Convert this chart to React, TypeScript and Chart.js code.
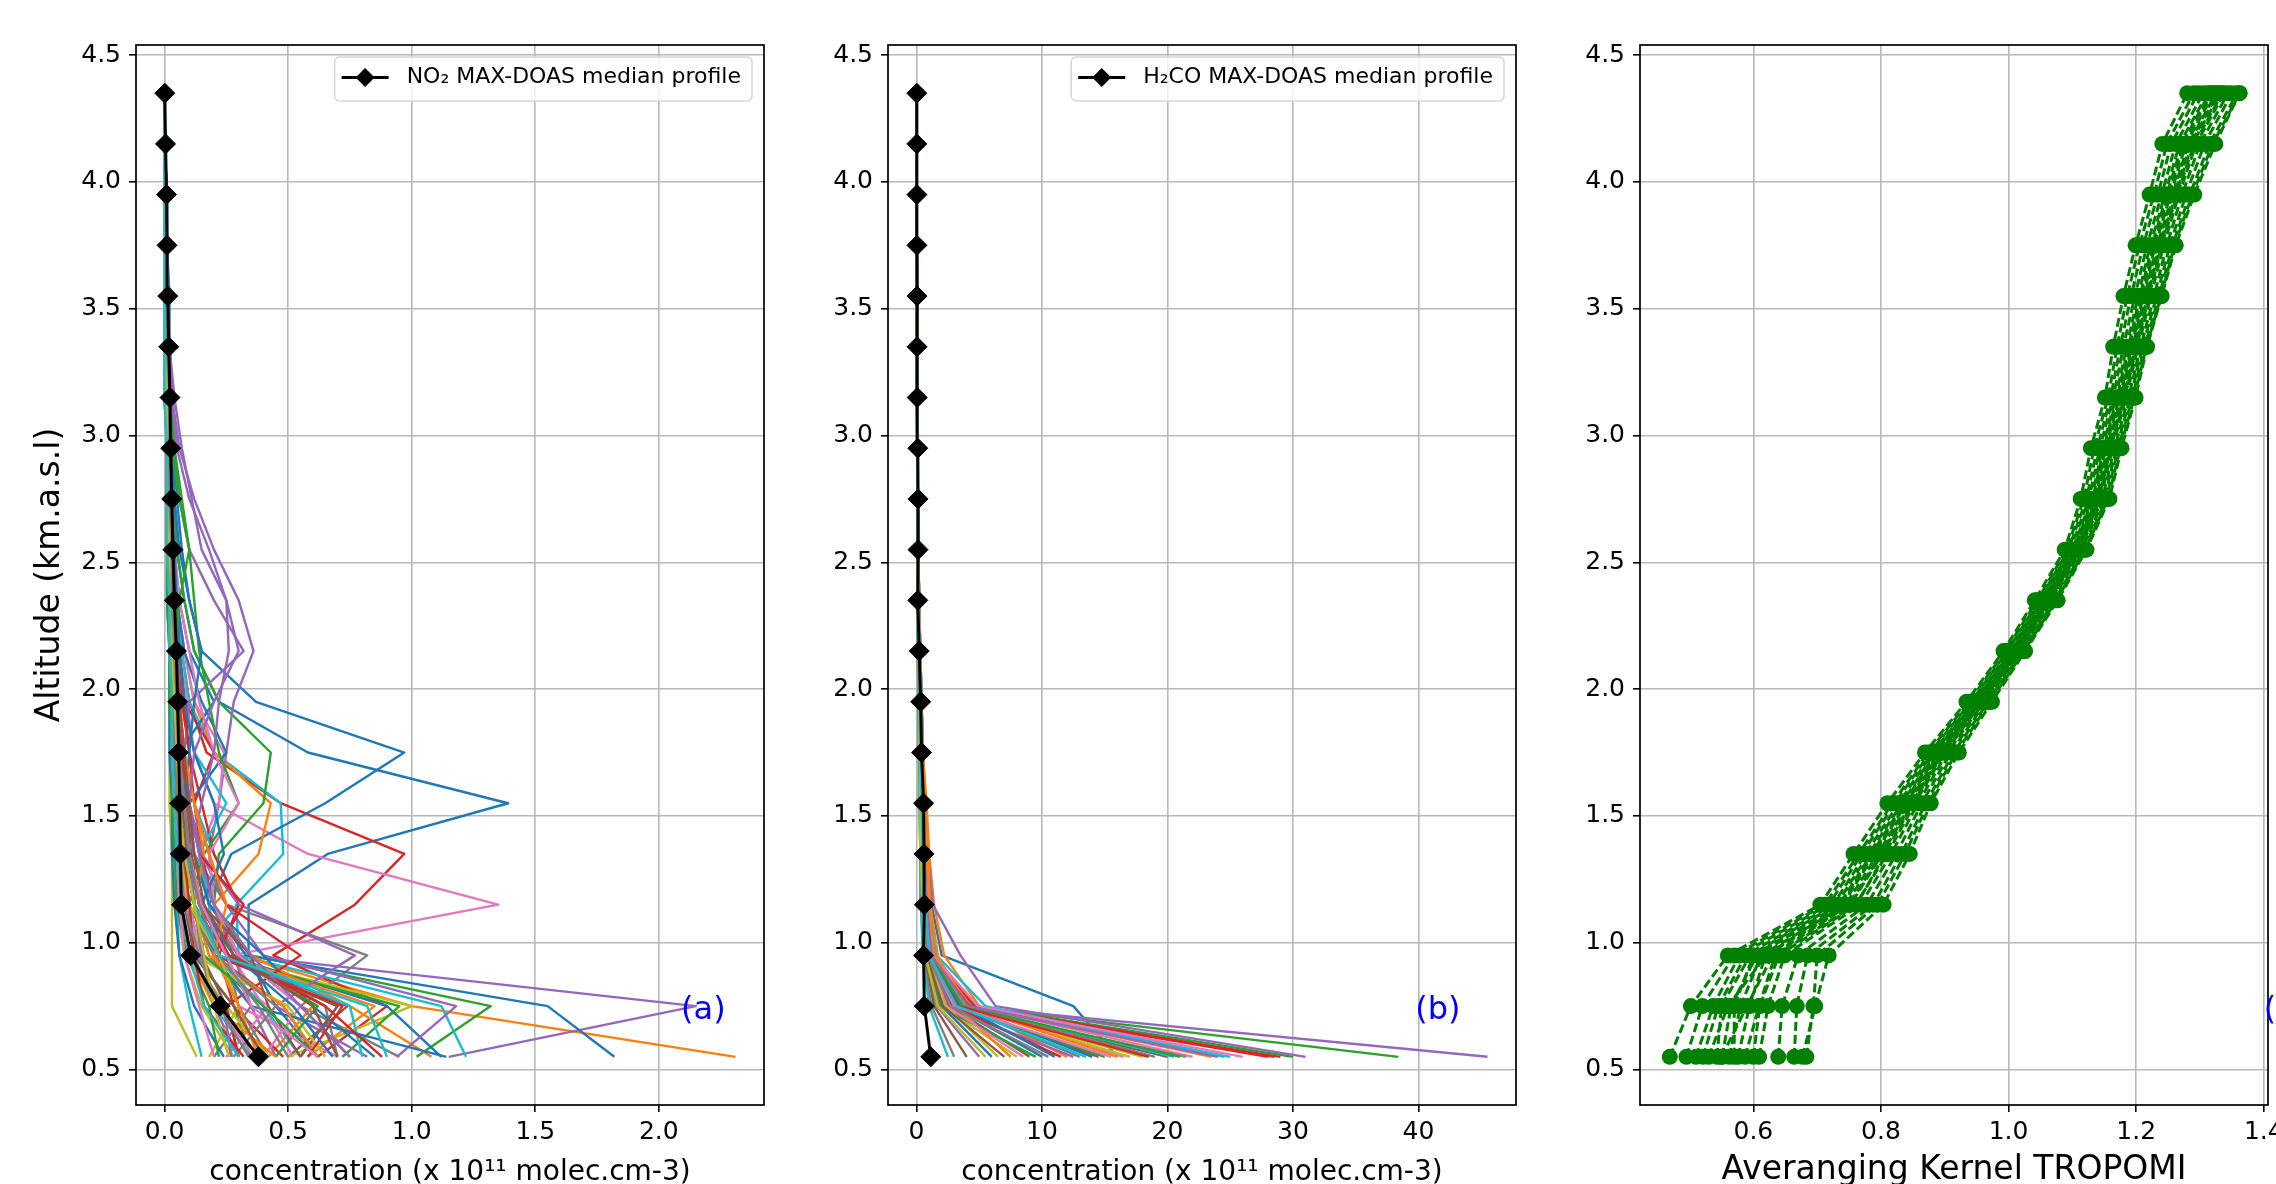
import React, { useEffect, useRef } from 'react';
import { Chart, registerables } from 'chart.js';

Chart.register(...registerables);

const FONT = "'DejaVu Sans', sans-serif";

// ---------------- data ----------------
const ALTITUDES = [0.55, 0.75, 0.95, 1.15, 1.35, 1.55, 1.75, 1.95, 2.15, 2.35, 2.55, 2.75, 2.95, 3.15, 3.35, 3.55, 3.75, 3.95, 4.15, 4.35];
const Y_TICKS = [0.5, 1.0, 1.5, 2.0, 2.5, 3.0, 3.5, 4.0, 4.5];
const Y_LIMITS = [0.36, 4.54];

const NO2_X_TICKS = [0, 0.5, 1.0, 1.5, 2.0];
const NO2_X_LIMITS = [-0.1155, 2.4255];
const NO2_MEDIAN = [0.38, 0.225, 0.106, 0.068, 0.064, 0.061, 0.057, 0.053, 0.048, 0.04, 0.034, 0.029, 0.025, 0.022, 0.017, 0.013, 0.01, 0.008, 0.004, 0.001];
const NO2_PROFILES = [
  [0.62, 0.45, 0.34, 0.34, 0.66, 1.39, 0.58, 0.22, 0.12, 0.08, 0.05, 0.04, 0.03, 0.02, 0.02, 0.01, 0.01, 0.01, 0.0, 0.0],
  [2.31, 1.0, 0.3, 0.15, 0.1, 0.08, 0.07, 0.05, 0.04, 0.03, 0.03, 0.02, 0.02, 0.01, 0.01, 0.01, 0.01, 0.0, 0.0, 0.0],
  [1.02, 1.32, 0.35, 0.18, 0.12, 0.1, 0.08, 0.06, 0.05, 0.04, 0.03, 0.03, 0.02, 0.02, 0.01, 0.01, 0.01, 0.0, 0.0, 0.0],
  [0.62, 0.9, 0.44, 0.77, 0.97, 0.47, 0.17, 0.1, 0.07, 0.05, 0.04, 0.03, 0.02, 0.02, 0.01, 0.01, 0.01, 0.0, 0.0, 0.0],
  [1.15, 2.15, 0.3, 0.14, 0.1, 0.08, 0.06, 0.05, 0.04, 0.03, 0.03, 0.02, 0.02, 0.01, 0.01, 0.01, 0.0, 0.0, 0.0, 0.0],
  [0.5, 0.74, 0.25, 0.12, 0.09, 0.07, 0.06, 0.05, 0.04, 0.03, 0.02, 0.02, 0.02, 0.01, 0.01, 0.01, 0.0, 0.0, 0.0, 0.0],
  [0.52, 0.4, 0.27, 1.35, 0.58, 0.2, 0.12, 0.09, 0.06, 0.05, 0.04, 0.03, 0.02, 0.02, 0.01, 0.01, 0.01, 0.0, 0.0, 0.0],
  [0.95, 0.55, 0.82, 0.25, 0.12, 0.08, 0.06, 0.05, 0.04, 0.03, 0.03, 0.02, 0.02, 0.01, 0.01, 0.01, 0.0, 0.0, 0.0, 0.0],
  [0.5, 1.0, 0.2, 0.1, 0.07, 0.05, 0.04, 0.03, 0.03, 0.02, 0.02, 0.01, 0.01, 0.01, 0.01, 0.0, 0.0, 0.0, 0.0, 0.0],
  [1.22, 1.12, 0.3, 0.29, 0.48, 0.47, 0.2, 0.1, 0.07, 0.05, 0.04, 0.03, 0.02, 0.02, 0.01, 0.01, 0.01, 0.0, 0.0, 0.0],

  [1.82, 1.55, 0.33, 0.18, 0.27, 0.65, 0.97, 0.37, 0.15, 0.1, 0.07, 0.05, 0.04, 0.03, 0.02, 0.02, 0.01, 0.01, 0.0, 0.0],
  [0.42, 0.6, 0.3, 0.2, 0.38, 0.43, 0.2, 0.12, 0.08, 0.05, 0.04, 0.03, 0.02, 0.02, 0.01, 0.01, 0.01, 0.0, 0.0, 0.0],
  [0.55, 0.7, 0.25, 0.2, 0.22, 0.4, 0.43, 0.22, 0.12, 0.08, 0.05, 0.04, 0.03, 0.02, 0.02, 0.01, 0.01, 0.01, 0.0, 0.0],
  [0.75, 0.55, 0.3, 0.2, 0.15, 0.12, 0.2, 0.08, 0.06, 0.05, 0.04, 0.03, 0.02, 0.02, 0.01, 0.01, 0.01, 0.0, 0.0, 0.0],
  [0.45, 0.35, 0.28, 0.2, 0.18, 0.22, 0.25, 0.28, 0.36, 0.3, 0.2, 0.12, 0.06, 0.03, 0.02, 0.01, 0.01, 0.01, 0.0, 0.0],
  [0.3, 0.25, 0.15, 0.1, 0.08, 0.06, 0.05, 0.04, 0.04, 0.03, 0.02, 0.02, 0.01, 0.01, 0.01, 0.0, 0.0, 0.0, 0.0, 0.0],
  [0.7, 0.3, 0.22, 0.18, 0.14, 0.22, 0.24, 0.12, 0.08, 0.05, 0.04, 0.03, 0.02, 0.02, 0.01, 0.01, 0.01, 0.0, 0.0, 0.0],
  [0.7, 0.65, 0.3, 0.15, 0.1, 0.08, 0.06, 0.05, 0.04, 0.03, 0.02, 0.02, 0.01, 0.01, 0.01, 0.01, 0.0, 0.0, 0.0, 0.0],
  [0.13, 0.03, 0.03, 0.03, 0.03, 0.02, 0.02, 0.02, 0.02, 0.01, 0.01, 0.01, 0.01, 0.01, 0.0, 0.0, 0.0, 0.0, 0.0, 0.0],
  [0.35, 0.2, 0.12, 0.3, 0.2, 0.12, 0.08, 0.06, 0.05, 0.04, 0.03, 0.02, 0.02, 0.01, 0.01, 0.01, 0.0, 0.0, 0.0, 0.0],

  [1.12, 0.9, 0.25, 0.12, 0.1, 0.08, 0.06, 0.2, 0.1, 0.06, 0.04, 0.03, 0.02, 0.02, 0.01, 0.01, 0.01, 0.0, 0.0, 0.0],
  [1.08, 0.75, 0.35, 0.2, 0.12, 0.09, 0.07, 0.05, 0.04, 0.03, 0.02, 0.02, 0.01, 0.01, 0.01, 0.0, 0.0, 0.0, 0.0, 0.0],
  [0.72, 0.95, 0.2, 0.1, 0.07, 0.06, 0.05, 0.04, 0.03, 0.03, 0.02, 0.02, 0.01, 0.01, 0.01, 0.0, 0.0, 0.0, 0.0, 0.0],
  [0.48, 0.28, 0.22, 0.3, 0.2, 0.15, 0.1, 0.07, 0.05, 0.04, 0.03, 0.02, 0.02, 0.01, 0.01, 0.01, 0.0, 0.0, 0.0, 0.0],
  [0.94, 1.18, 0.4, 0.25, 0.15, 0.1, 0.08, 0.1, 0.32, 0.2, 0.1, 0.06, 0.04, 0.03, 0.02, 0.01, 0.01, 0.0, 0.0, 0.0],
  [0.62, 0.48, 0.2, 0.12, 0.1, 0.08, 0.06, 0.05, 0.04, 0.03, 0.02, 0.02, 0.01, 0.01, 0.01, 0.0, 0.0, 0.0, 0.0, 0.0],
  [0.25, 0.42, 0.15, 0.1, 0.07, 0.06, 0.05, 0.04, 0.03, 0.02, 0.02, 0.01, 0.01, 0.01, 0.0, 0.0, 0.0, 0.0, 0.0, 0.0],
  [0.42, 0.3, 0.25, 0.2, 0.1, 0.07, 0.05, 0.04, 0.03, 0.03, 0.02, 0.02, 0.01, 0.01, 0.01, 0.0, 0.0, 0.0, 0.0, 0.0],
  [0.28, 0.15, 0.08, 0.05, 0.04, 0.03, 0.03, 0.02, 0.02, 0.02, 0.01, 0.01, 0.01, 0.01, 0.0, 0.0, 0.0, 0.0, 0.0, 0.0],
  [0.55, 0.4, 0.2, 0.18, 0.14, 0.25, 0.12, 0.08, 0.06, 0.04, 0.03, 0.03, 0.02, 0.01, 0.01, 0.01, 0.0, 0.0, 0.0, 0.0],

  [0.85, 0.6, 0.4, 0.18, 0.12, 0.1, 0.25, 0.15, 0.08, 0.05, 0.04, 0.03, 0.02, 0.02, 0.01, 0.01, 0.0, 0.0, 0.0, 0.0],
  [0.58, 0.85, 0.25, 0.15, 0.1, 0.08, 0.06, 0.05, 0.04, 0.03, 0.02, 0.02, 0.01, 0.01, 0.01, 0.0, 0.0, 0.0, 0.0, 0.0],
  [0.35, 0.28, 0.12, 0.1, 0.16, 0.3, 0.22, 0.18, 0.14, 0.12, 0.1, 0.07, 0.04, 0.02, 0.02, 0.01, 0.01, 0.0, 0.0, 0.0],
  [0.3, 0.25, 0.55, 0.25, 0.18, 0.12, 0.1, 0.08, 0.06, 0.05, 0.04, 0.03, 0.02, 0.02, 0.01, 0.01, 0.0, 0.0, 0.0, 0.0],
  [0.82, 0.45, 0.77, 0.3, 0.15, 0.1, 0.07, 0.06, 0.05, 0.04, 0.03, 0.02, 0.02, 0.01, 0.01, 0.01, 0.0, 0.0, 0.0, 0.0],
  [0.55, 0.7, 0.22, 0.14, 0.11, 0.09, 0.07, 0.05, 0.04, 0.03, 0.03, 0.02, 0.02, 0.01, 0.01, 0.01, 0.0, 0.0, 0.0, 0.0],
  [0.4, 0.55, 0.3, 0.2, 0.18, 0.3, 0.2, 0.14, 0.1, 0.06, 0.04, 0.03, 0.02, 0.02, 0.01, 0.01, 0.0, 0.0, 0.0, 0.0],
  [0.2, 0.35, 0.18, 0.12, 0.08, 0.06, 0.05, 0.04, 0.03, 0.02, 0.02, 0.01, 0.01, 0.01, 0.0, 0.0, 0.0, 0.0, 0.0, 0.0],
  [0.65, 0.5, 0.12, 0.15, 0.1, 0.07, 0.05, 0.04, 0.03, 0.02, 0.02, 0.01, 0.01, 0.01, 0.0, 0.0, 0.0, 0.0, 0.0, 0.0],
  [0.8, 0.75, 0.26, 0.16, 0.08, 0.06, 0.05, 0.04, 0.03, 0.02, 0.02, 0.01, 0.01, 0.01, 0.0, 0.0, 0.0, 0.0, 0.0, 0.0],

  [1.14, 0.35, 0.2, 0.15, 0.24, 0.2, 0.12, 0.08, 0.06, 0.05, 0.04, 0.03, 0.02, 0.02, 0.01, 0.01, 0.0, 0.0, 0.0, 0.0],
  [0.62, 0.48, 0.18, 0.12, 0.16, 0.12, 0.08, 0.06, 0.05, 0.04, 0.03, 0.02, 0.02, 0.01, 0.01, 0.01, 0.0, 0.0, 0.0, 0.0],
  [0.45, 0.62, 0.26, 0.15, 0.1, 0.07, 0.05, 0.04, 0.03, 0.03, 0.02, 0.02, 0.01, 0.01, 0.01, 0.0, 0.0, 0.0, 0.0, 0.0],
  [0.58, 0.72, 0.2, 0.32, 0.14, 0.1, 0.07, 0.05, 0.04, 0.03, 0.02, 0.02, 0.01, 0.01, 0.01, 0.0, 0.0, 0.0, 0.0, 0.0],
  [0.3, 0.2, 0.15, 0.12, 0.1, 0.15, 0.2, 0.22, 0.26, 0.25, 0.18, 0.1, 0.05, 0.03, 0.02, 0.01, 0.01, 0.0, 0.0, 0.0],
  [0.55, 0.42, 0.35, 0.15, 0.1, 0.07, 0.05, 0.04, 0.03, 0.03, 0.02, 0.02, 0.01, 0.01, 0.01, 0.0, 0.0, 0.0, 0.0, 0.0],
  [0.36, 0.22, 0.14, 0.09, 0.07, 0.05, 0.04, 0.03, 0.03, 0.02, 0.02, 0.01, 0.01, 0.01, 0.0, 0.0, 0.0, 0.0, 0.0, 0.0],
  [0.28, 0.45, 0.2, 0.1, 0.07, 0.05, 0.04, 0.03, 0.03, 0.02, 0.02, 0.01, 0.01, 0.01, 0.0, 0.0, 0.0, 0.0, 0.0, 0.0],
  [0.18, 0.3, 0.22, 0.1, 0.06, 0.05, 0.04, 0.03, 0.02, 0.02, 0.01, 0.01, 0.01, 0.0, 0.0, 0.0, 0.0, 0.0, 0.0, 0.0],
  [0.15, 0.1, 0.06, 0.05, 0.04, 0.04, 0.03, 0.03, 0.02, 0.02, 0.01, 0.01, 0.01, 0.01, 0.0, 0.0, 0.0, 0.0, 0.0, 0.0],

  [0.68, 0.52, 0.28, 0.14, 0.1, 0.08, 0.1, 0.12, 0.15, 0.1, 0.06, 0.04, 0.03, 0.02, 0.01, 0.01, 0.01, 0.0, 0.0, 0.0],
  [0.38, 0.3, 0.2, 0.25, 0.18, 0.12, 0.08, 0.06, 0.05, 0.04, 0.03, 0.02, 0.02, 0.01, 0.01, 0.01, 0.0, 0.0, 0.0, 0.0],
  [0.62, 0.4, 0.16, 0.12, 0.08, 0.06, 0.05, 0.04, 0.04, 0.06, 0.1, 0.06, 0.03, 0.02, 0.01, 0.01, 0.0, 0.0, 0.0, 0.0],
  [0.88, 0.65, 0.26, 0.14, 0.1, 0.08, 0.06, 0.05, 0.04, 0.03, 0.02, 0.02, 0.01, 0.01, 0.01, 0.0, 0.0, 0.0, 0.0, 0.0],
  [0.75, 0.55, 0.35, 0.2, 0.14, 0.1, 0.12, 0.2, 0.3, 0.25, 0.15, 0.11, 0.07, 0.04, 0.02, 0.01, 0.01, 0.0, 0.0, 0.0],
  [0.7, 0.6, 0.28, 0.16, 0.12, 0.1, 0.08, 0.06, 0.05, 0.04, 0.03, 0.02, 0.02, 0.01, 0.01, 0.0, 0.0, 0.0, 0.0, 0.0],
  [0.62, 0.35, 0.25, 0.15, 0.1, 0.08, 0.06, 0.05, 0.04, 0.03, 0.02, 0.02, 0.01, 0.01, 0.01, 0.0, 0.0, 0.0, 0.0, 0.0],
  [0.5, 0.38, 0.22, 0.14, 0.1, 0.08, 0.06, 0.05, 0.04, 0.03, 0.02, 0.02, 0.01, 0.01, 0.01, 0.0, 0.0, 0.0, 0.0, 0.0],
  [0.42, 0.25, 0.1, 0.06, 0.05, 0.04, 0.03, 0.03, 0.02, 0.02, 0.01, 0.01, 0.01, 0.0, 0.0, 0.0, 0.0, 0.0, 0.0, 0.0],
  [0.9, 0.82, 0.22, 0.12, 0.08, 0.06, 0.05, 0.04, 0.03, 0.02, 0.02, 0.01, 0.01, 0.01, 0.0, 0.0, 0.0, 0.0, 0.0, 0.0],

  [0.24, 0.12, 0.06, 0.04, 0.03, 0.03, 0.02, 0.02, 0.02, 0.01, 0.01, 0.01, 0.01, 0.0, 0.0, 0.0, 0.0, 0.0, 0.0, 0.0],
  [0.45, 0.2, 0.1, 0.06, 0.05, 0.04, 0.03, 0.03, 0.02, 0.02, 0.01, 0.01, 0.01, 0.01, 0.0, 0.0, 0.0, 0.0, 0.0, 0.0],
  [0.22, 0.18, 0.09, 0.05, 0.04, 0.03, 0.03, 0.02, 0.02, 0.01, 0.01, 0.01, 0.01, 0.0, 0.0, 0.0, 0.0, 0.0, 0.0, 0.0],
  [0.32, 0.16, 0.12, 0.1, 0.08, 0.06, 0.05, 0.04, 0.03, 0.02, 0.02, 0.01, 0.01, 0.01, 0.0, 0.0, 0.0, 0.0, 0.0, 0.0],
  [0.27, 0.24, 0.1, 0.06, 0.05, 0.04, 0.03, 0.03, 0.02, 0.02, 0.01, 0.01, 0.01, 0.0, 0.0, 0.0, 0.0, 0.0, 0.0, 0.0],
  [0.4, 0.28, 0.12, 0.08, 0.06, 0.05, 0.04, 0.03, 0.02, 0.02, 0.01, 0.01, 0.01, 0.01, 0.0, 0.0, 0.0, 0.0, 0.0, 0.0],
  [0.2, 0.14, 0.08, 0.06, 0.05, 0.04, 0.03, 0.03, 0.02, 0.02, 0.01, 0.01, 0.01, 0.0, 0.0, 0.0, 0.0, 0.0, 0.0, 0.0],
  [0.34, 0.22, 0.14, 0.08, 0.06, 0.05, 0.04, 0.03, 0.02, 0.02, 0.01, 0.01, 0.01, 0.01, 0.0, 0.0, 0.0, 0.0, 0.0, 0.0],
  [0.26, 0.2, 0.16, 0.12, 0.08, 0.06, 0.05, 0.04, 0.03, 0.02, 0.02, 0.01, 0.01, 0.01, 0.0, 0.0, 0.0, 0.0, 0.0, 0.0],
  [0.3, 0.16, 0.1, 0.07, 0.05, 0.04, 0.03, 0.03, 0.02, 0.02, 0.01, 0.01, 0.01, 0.0, 0.0, 0.0, 0.0, 0.0, 0.0, 0.0],
];

const HCHO_X_TICKS = [0, 10, 20, 30, 40];
const HCHO_X_LIMITS = [-2.275, 47.775];
const HCHO_MEDIAN = [1.13, 0.62, 0.56, 0.62, 0.6, 0.56, 0.4, 0.33, 0.21, 0.1, 0.12, 0.12, 0.1, 0.05, 0.04, 0.04, 0.03, 0.03, 0.02, 0.02];
const HCHO_PROFILES = [
  [16.0, 12.5, 2.0, 1.2, 0.9, 0.7, 0.5, 0.4, 0.3, 0.2, 0.15, 0.1, 0.08, 0.06, 0.05, 0.04, 0.03, 0.02, 0.02, 0.01],
  [12.0, 4.2, 1.6, 1.0, 0.8, 0.6, 0.5, 0.4, 0.3, 0.2, 0.15, 0.1, 0.08, 0.06, 0.05, 0.04, 0.03, 0.02, 0.02, 0.01],
  [38.4, 4.0, 1.2, 0.8, 0.6, 0.5, 0.4, 0.3, 0.2, 0.15, 0.1, 0.08, 0.06, 0.05, 0.04, 0.03, 0.02, 0.02, 0.01, 0.01],
  [29.0, 3.5, 1.0, 0.7, 0.6, 0.5, 0.4, 0.3, 0.25, 0.2, 0.15, 0.1, 0.08, 0.06, 0.05, 0.04, 0.03, 0.02, 0.02, 0.01],
  [45.5, 3.6, 1.5, 1.0, 0.8, 0.6, 0.5, 0.4, 0.3, 0.2, 0.15, 0.1, 0.08, 0.06, 0.05, 0.04, 0.03, 0.02, 0.02, 0.01],
  [14.5, 3.0, 0.9, 0.6, 0.5, 0.4, 0.35, 0.3, 0.2, 0.15, 0.1, 0.08, 0.06, 0.05, 0.04, 0.03, 0.02, 0.02, 0.01, 0.01],
  [22.0, 4.5, 1.1, 0.8, 0.6, 0.5, 0.4, 0.3, 0.25, 0.2, 0.15, 0.1, 0.08, 0.06, 0.05, 0.04, 0.03, 0.02, 0.02, 0.01],
  [21.5, 2.5, 0.8, 0.6, 0.5, 0.4, 0.3, 0.25, 0.2, 0.15, 0.1, 0.08, 0.06, 0.05, 0.04, 0.03, 0.02, 0.02, 0.01, 0.01],
  [8.0, 2.0, 0.7, 0.5, 0.4, 0.35, 0.3, 0.25, 0.2, 0.15, 0.1, 0.08, 0.06, 0.05, 0.04, 0.03, 0.02, 0.02, 0.01, 0.01],
  [25.0, 4.4, 1.3, 0.9, 0.7, 0.6, 0.5, 0.4, 0.3, 0.2, 0.15, 0.1, 0.08, 0.06, 0.05, 0.04, 0.03, 0.02, 0.02, 0.01],

  [14.0, 3.8, 1.4, 0.9, 0.7, 0.55, 0.45, 0.35, 0.25, 0.2, 0.15, 0.1, 0.08, 0.06, 0.05, 0.04, 0.03, 0.02, 0.02, 0.01],
  [11.0, 5.0, 2.2, 1.4, 1.0, 0.7, 0.5, 0.4, 0.3, 0.2, 0.15, 0.1, 0.08, 0.06, 0.05, 0.04, 0.03, 0.02, 0.02, 0.01],
  [30.0, 4.8, 1.3, 0.9, 0.7, 0.55, 0.45, 0.35, 0.25, 0.2, 0.15, 0.1, 0.08, 0.06, 0.05, 0.04, 0.03, 0.02, 0.02, 0.01],
  [28.5, 4.6, 1.2, 0.8, 0.6, 0.5, 0.4, 0.3, 0.25, 0.2, 0.15, 0.1, 0.08, 0.06, 0.05, 0.04, 0.03, 0.02, 0.02, 0.01],
  [31.0, 6.3, 3.5, 1.3, 0.9, 0.7, 0.5, 0.4, 0.3, 0.2, 0.15, 0.1, 0.08, 0.06, 0.05, 0.04, 0.03, 0.02, 0.02, 0.01],
  [20.0, 3.2, 1.0, 0.7, 0.5, 0.4, 0.35, 0.3, 0.2, 0.15, 0.1, 0.08, 0.06, 0.05, 0.04, 0.03, 0.02, 0.02, 0.01, 0.01],
  [16.5, 3.8, 1.2, 0.8, 0.6, 0.5, 0.4, 0.3, 0.25, 0.2, 0.15, 0.1, 0.08, 0.06, 0.05, 0.04, 0.03, 0.02, 0.02, 0.01],
  [19.0, 4.0, 1.1, 0.7, 0.55, 0.45, 0.35, 0.3, 0.2, 0.15, 0.1, 0.08, 0.06, 0.05, 0.04, 0.03, 0.02, 0.02, 0.01, 0.01],
  [18.0, 3.4, 0.9, 0.6, 0.5, 0.4, 0.3, 0.25, 0.2, 0.15, 0.1, 0.08, 0.06, 0.05, 0.04, 0.03, 0.02, 0.02, 0.01, 0.01],
  [24.5, 5.5, 1.6, 1.0, 0.8, 0.6, 0.5, 0.4, 0.3, 0.2, 0.15, 0.1, 0.08, 0.06, 0.05, 0.04, 0.03, 0.02, 0.02, 0.01],

  [10.0, 2.8, 0.9, 0.6, 0.5, 0.4, 0.3, 0.25, 0.2, 0.15, 0.1, 0.08, 0.06, 0.05, 0.04, 0.03, 0.02, 0.02, 0.01, 0.01],
  [23.5, 4.3, 1.4, 0.9, 0.7, 0.5, 0.4, 0.3, 0.25, 0.2, 0.15, 0.1, 0.08, 0.06, 0.05, 0.04, 0.03, 0.02, 0.02, 0.01],
  [15.0, 3.0, 1.0, 0.7, 0.5, 0.4, 0.3, 0.25, 0.2, 0.15, 0.1, 0.08, 0.06, 0.05, 0.04, 0.03, 0.02, 0.02, 0.01, 0.01],
  [28.0, 4.2, 1.1, 0.8, 0.6, 0.45, 0.35, 0.3, 0.2, 0.15, 0.1, 0.08, 0.06, 0.05, 0.04, 0.03, 0.02, 0.02, 0.01, 0.01],
  [12.5, 2.2, 0.8, 0.6, 0.45, 0.35, 0.3, 0.25, 0.2, 0.15, 0.1, 0.08, 0.06, 0.05, 0.04, 0.03, 0.02, 0.02, 0.01, 0.01],
  [9.0, 2.6, 0.9, 0.6, 0.45, 0.35, 0.3, 0.2, 0.15, 0.1, 0.08, 0.06, 0.05, 0.04, 0.03, 0.02, 0.02, 0.01, 0.01, 0.01],
  [26.0, 4.9, 1.3, 0.9, 0.7, 0.5, 0.4, 0.3, 0.25, 0.2, 0.15, 0.1, 0.08, 0.06, 0.05, 0.04, 0.03, 0.02, 0.02, 0.01],
  [13.0, 3.3, 1.0, 0.7, 0.5, 0.4, 0.3, 0.25, 0.2, 0.15, 0.1, 0.08, 0.06, 0.05, 0.04, 0.03, 0.02, 0.02, 0.01, 0.01],
  [17.0, 3.6, 1.2, 0.8, 0.6, 0.45, 0.35, 0.3, 0.2, 0.15, 0.1, 0.08, 0.06, 0.05, 0.04, 0.03, 0.02, 0.02, 0.01, 0.01],
  [20.5, 3.9, 1.1, 0.8, 0.6, 0.45, 0.35, 0.3, 0.2, 0.15, 0.1, 0.08, 0.06, 0.05, 0.04, 0.03, 0.02, 0.02, 0.01, 0.01],

  [6.0, 2.0, 0.8, 0.5, 0.4, 0.3, 0.25, 0.2, 0.15, 0.1, 0.08, 0.06, 0.05, 0.04, 0.03, 0.02, 0.02, 0.01, 0.01, 0.01],
  [7.5, 3.1, 1.7, 1.1, 0.8, 0.6, 0.45, 0.35, 0.25, 0.2, 0.15, 0.1, 0.08, 0.06, 0.05, 0.04, 0.03, 0.02, 0.02, 0.01],
  [9.5, 1.8, 0.7, 0.5, 0.4, 0.3, 0.25, 0.2, 0.15, 0.1, 0.08, 0.06, 0.05, 0.04, 0.03, 0.02, 0.02, 0.01, 0.01, 0.01],
  [11.5, 2.9, 1.0, 0.7, 0.5, 0.4, 0.3, 0.25, 0.2, 0.15, 0.1, 0.08, 0.06, 0.05, 0.04, 0.03, 0.02, 0.02, 0.01, 0.01],
  [5.0, 1.6, 0.6, 0.45, 0.35, 0.3, 0.25, 0.2, 0.15, 0.1, 0.08, 0.06, 0.05, 0.04, 0.03, 0.02, 0.02, 0.01, 0.01, 0.01],
  [4.0, 1.4, 0.6, 0.4, 0.3, 0.25, 0.2, 0.15, 0.1, 0.08, 0.06, 0.05, 0.04, 0.03, 0.02, 0.02, 0.01, 0.01, 0.01, 0.0],
  [8.5, 2.4, 0.9, 0.6, 0.45, 0.35, 0.3, 0.2, 0.15, 0.1, 0.08, 0.06, 0.05, 0.04, 0.03, 0.02, 0.02, 0.01, 0.01, 0.01],
  [3.0, 1.2, 0.5, 0.35, 0.3, 0.25, 0.2, 0.15, 0.1, 0.08, 0.06, 0.05, 0.04, 0.03, 0.02, 0.02, 0.01, 0.01, 0.01, 0.0],
  [6.5, 2.3, 0.8, 0.5, 0.4, 0.3, 0.25, 0.2, 0.15, 0.1, 0.08, 0.06, 0.05, 0.04, 0.03, 0.02, 0.02, 0.01, 0.01, 0.01],
  [2.5, 1.0, 0.5, 0.4, 0.3, 0.25, 0.2, 0.15, 0.1, 0.08, 0.06, 0.05, 0.04, 0.03, 0.02, 0.02, 0.01, 0.01, 0.01, 0.0],

  [11.0, 3.5, 1.2, 0.8, 0.6, 0.45, 0.35, 0.3, 0.2, 0.15, 0.1, 0.08, 0.06, 0.05, 0.04, 0.03, 0.02, 0.02, 0.01, 0.01],
  [16.0, 4.0, 1.3, 0.9, 1.0, 0.8, 0.5, 0.35, 0.25, 0.2, 0.15, 0.1, 0.08, 0.06, 0.05, 0.04, 0.03, 0.02, 0.02, 0.01],
  [21.0, 3.7, 1.1, 0.8, 0.6, 0.45, 0.35, 0.3, 0.2, 0.15, 0.1, 0.08, 0.06, 0.05, 0.04, 0.03, 0.02, 0.02, 0.01, 0.01],
  [18.5, 3.3, 1.0, 0.7, 0.5, 0.4, 0.3, 0.25, 0.2, 0.15, 0.1, 0.08, 0.06, 0.05, 0.04, 0.03, 0.02, 0.02, 0.01, 0.01],
  [24.0, 4.1, 1.2, 0.8, 0.6, 0.45, 0.35, 0.3, 0.2, 0.15, 0.1, 0.08, 0.06, 0.05, 0.04, 0.03, 0.02, 0.02, 0.01, 0.01],
  [7.0, 2.1, 0.8, 0.55, 0.4, 0.3, 0.25, 0.2, 0.15, 0.1, 0.08, 0.06, 0.05, 0.04, 0.03, 0.02, 0.02, 0.01, 0.01, 0.01],
  [15.5, 3.0, 1.0, 0.7, 0.5, 0.4, 0.3, 0.25, 0.2, 0.15, 0.1, 0.08, 0.06, 0.05, 0.04, 0.03, 0.02, 0.02, 0.01, 0.01],
  [10.5, 2.7, 0.9, 0.6, 0.45, 0.35, 0.3, 0.2, 0.15, 0.1, 0.08, 0.06, 0.05, 0.04, 0.03, 0.02, 0.02, 0.01, 0.01, 0.01],
  [5.5, 1.7, 0.7, 0.5, 0.35, 0.3, 0.25, 0.2, 0.15, 0.1, 0.08, 0.06, 0.05, 0.04, 0.03, 0.02, 0.02, 0.01, 0.01, 0.01],
  [13.5, 3.2, 1.0, 0.7, 0.5, 0.4, 0.3, 0.25, 0.2, 0.15, 0.1, 0.08, 0.06, 0.05, 0.04, 0.03, 0.02, 0.02, 0.01, 0.01],
];

const AK_X_TICKS = [0.6, 0.8, 1.0, 1.2, 1.4];
const AK_X_LIMITS = [0.4223, 1.4066];
const AK_PROFILES = [
  [0.469, 0.502, 0.560, 0.705, 0.757, 0.810, 0.869, 0.934, 0.992, 1.041, 1.088, 1.113, 1.129, 1.151, 1.164, 1.180, 1.199, 1.221, 1.241, 1.280],
  [0.495, 0.520, 0.570, 0.712, 0.765, 0.818, 0.874, 0.938, 0.995, 1.045, 1.091, 1.118, 1.134, 1.156, 1.170, 1.186, 1.205, 1.228, 1.248, 1.290],
  [0.510, 0.537, 0.578, 0.718, 0.770, 0.822, 0.877, 0.941, 0.998, 1.048, 1.094, 1.122, 1.139, 1.160, 1.175, 1.192, 1.211, 1.234, 1.255, 1.297],
  [0.521, 0.545, 0.588, 0.725, 0.776, 0.828, 0.881, 0.944, 1.001, 1.050, 1.097, 1.126, 1.143, 1.164, 1.180, 1.198, 1.217, 1.240, 1.262, 1.305],
  [0.543, 0.550, 0.595, 0.730, 0.781, 0.833, 0.884, 0.947, 1.004, 1.053, 1.100, 1.130, 1.147, 1.168, 1.185, 1.203, 1.222, 1.245, 1.268, 1.312],
  [0.551, 0.565, 0.605, 0.738, 0.788, 0.838, 0.888, 0.950, 1.007, 1.056, 1.103, 1.134, 1.151, 1.172, 1.190, 1.208, 1.228, 1.251, 1.275, 1.318],
  [0.562, 0.580, 0.612, 0.745, 0.795, 0.843, 0.892, 0.953, 1.010, 1.059, 1.106, 1.138, 1.155, 1.176, 1.195, 1.213, 1.233, 1.257, 1.282, 1.325],
  [0.576, 0.594, 0.619, 0.752, 0.802, 0.848, 0.896, 0.956, 1.013, 1.062, 1.108, 1.141, 1.159, 1.180, 1.199, 1.218, 1.238, 1.262, 1.288, 1.332],
  [0.587, 0.609, 0.634, 0.760, 0.810, 0.853, 0.900, 0.959, 1.015, 1.064, 1.110, 1.144, 1.163, 1.184, 1.203, 1.223, 1.243, 1.267, 1.294, 1.338],
  [0.609, 0.623, 0.649, 0.768, 0.816, 0.858, 0.904, 0.962, 1.017, 1.066, 1.112, 1.147, 1.166, 1.188, 1.207, 1.228, 1.248, 1.272, 1.300, 1.344],
  [0.639, 0.645, 0.670, 0.778, 0.824, 0.864, 0.909, 0.965, 1.019, 1.069, 1.115, 1.150, 1.169, 1.191, 1.210, 1.232, 1.253, 1.278, 1.307, 1.350],
  [0.664, 0.668, 0.685, 0.788, 0.832, 0.870, 0.914, 0.968, 1.022, 1.072, 1.118, 1.153, 1.172, 1.194, 1.213, 1.236, 1.257, 1.284, 1.315, 1.358],
  [0.683, 0.694, 0.700, 0.795, 0.838, 0.874, 0.918, 0.971, 1.024, 1.075, 1.120, 1.156, 1.175, 1.197, 1.216, 1.239, 1.260, 1.288, 1.320, 1.362],
  [0.677, 0.697, 0.718, 0.804, 0.845, 0.878, 0.922, 0.974, 1.026, 1.077, 1.122, 1.158, 1.177, 1.199, 1.217, 1.240, 1.262, 1.291, 1.324, 1.362],
  [0.530, 0.560, 0.620, 0.740, 0.790, 0.840, 0.890, 0.952, 1.008, 1.058, 1.104, 1.136, 1.152, 1.174, 1.193, 1.211, 1.230, 1.254, 1.278, 1.322],
  [0.600, 0.610, 0.640, 0.762, 0.806, 0.850, 0.898, 0.958, 1.014, 1.063, 1.109, 1.142, 1.160, 1.182, 1.201, 1.220, 1.240, 1.264, 1.291, 1.335],
  [0.550, 0.590, 0.630, 0.750, 0.800, 0.846, 0.894, 0.955, 1.011, 1.060, 1.107, 1.140, 1.157, 1.178, 1.197, 1.216, 1.236, 1.260, 1.285, 1.328],
  [0.570, 0.570, 0.600, 0.735, 0.785, 0.836, 0.886, 0.949, 1.006, 1.055, 1.102, 1.132, 1.149, 1.170, 1.188, 1.206, 1.225, 1.248, 1.272, 1.315],
];

const TAB10 = ['#1f77b4', '#ff7f0e', '#2ca02c', '#d62728', '#9467bd', '#8c564b', '#e377c2', '#7f7f7f', '#bcbd22', '#17becf'];

// ---------------- helpers ----------------
const toPoints = (values: number[]) => ALTITUDES.map((y, k) => ({ x: values[k], y }));

function profileDatasets(profiles: number[][], median: number[]) {
  const n = profiles.length;
  const ds: any[] = profiles.map((p, i) => ({
    data: toPoints(p),
    showLine: true,
    borderColor: TAB10[i % 10],
    backgroundColor: TAB10[i % 10],
    borderWidth: 2.4,
    borderJoinStyle: 'round',
    pointRadius: 0,
    order: n - i + 1,
  }));
  ds.push({
    data: toPoints(median),
    showLine: true,
    borderColor: '#000',
    backgroundColor: '#000',
    borderWidth: 3,
    borderJoinStyle: 'round',
    pointStyle: 'rectRot',
    pointRadius: 10,
    pointBorderWidth: 1,
    pointBorderColor: '#000',
    pointBackgroundColor: '#000',
    order: 0,
  });
  return ds;
}

function akDatasets(profiles: number[][]) {
  const n = profiles.length;
  return profiles.map((p, i) => ({
    data: toPoints(p),
    showLine: true,
    borderColor: '#008000',
    backgroundColor: '#008000',
    borderWidth: 3,
    borderDash: [9, 4],
    borderJoinStyle: 'round',
    pointStyle: 'circle',
    pointRadius: 8,
    pointBorderWidth: 0,
    pointBackgroundColor: '#008000',
    order: n - i,
  }));
}

type PanelCfg = {
  left: number;
  datasets: any[];
  xLim: number[];
  xTicks: number[];
  xFmt: (v: number) => string;
  xTitle: string;
  xTitleSize: number;
  xTitleLH: number;
  yTitle?: string;
  legend?: string;
  tag: { text: string; x: number; y: number };
};

const CANVAS_W = 800;
const CANVAS_H = 1184;

function Panel({ cfg }: { cfg: PanelCfg }) {
  const ref = useRef<HTMLCanvasElement>(null);
  useEffect(() => {
    const decor = {
      id: 'decor',
      afterDatasetsDraw(chart: any) {
        const { ctx, chartArea: a } = chart;
        ctx.save();
        ctx.strokeStyle = '#000';
        ctx.lineWidth = 1.7;
        ctx.strokeRect(a.left, a.top, a.right - a.left, a.bottom - a.top);
        const xs = chart.scales.x;
        const ys = chart.scales.y;
        ctx.font = `32px ${FONT}`;
        ctx.fillStyle = '#0000ff';
        ctx.textAlign = 'left';
        ctx.textBaseline = 'alphabetic';
        ctx.fillText(cfg.tag.text, xs.getPixelForValue(cfg.tag.x), ys.getPixelForValue(cfg.tag.y));
        if (cfg.legend) {
          ctx.font = `22px ${FONT}`;
          const tw = ctx.measureText(cfg.legend).width;
          const boxW = 72 + tw + 11;
          const boxH = 44;
          const right = a.right - 12;
          const top = a.top + 12;
          const left = right - boxW;
          const r = 5;
          ctx.beginPath();
          ctx.moveTo(left + r, top);
          ctx.lineTo(right - r, top);
          ctx.arcTo(right, top, right, top + r, r);
          ctx.lineTo(right, top + boxH - r);
          ctx.arcTo(right, top + boxH, right - r, top + boxH, r);
          ctx.lineTo(left + r, top + boxH);
          ctx.arcTo(left, top + boxH, left, top + boxH - r, r);
          ctx.lineTo(left, top + r);
          ctx.arcTo(left, top, left + r, top, r);
          ctx.closePath();
          ctx.fillStyle = 'rgba(255,255,255,0.8)';
          ctx.fill();
          ctx.strokeStyle = '#d6d6d6';
          ctx.lineWidth = 1.5;
          ctx.stroke();
          const cy = top + 20.5;
          ctx.strokeStyle = '#000';
          ctx.lineWidth = 3;
          ctx.beginPath();
          ctx.moveTo(left + 7, cy);
          ctx.lineTo(left + 54, cy);
          ctx.stroke();
          const cx = left + 30.5;
          const d = 9.5;
          ctx.fillStyle = '#000';
          ctx.beginPath();
          ctx.moveTo(cx - d, cy);
          ctx.lineTo(cx, cy - d);
          ctx.lineTo(cx + d, cy);
          ctx.lineTo(cx, cy + d);
          ctx.closePath();
          ctx.fill();
          ctx.fillStyle = '#000';
          ctx.textBaseline = 'middle';
          ctx.fillText(cfg.legend, left + 72, cy);
        }
        ctx.restore();
      },
    };

    const gridOpts = {
      color: '#b8b8b8',
      lineWidth: 1.6,
      drawTicks: true,
      tickLength: 7,
      tickColor: '#000',
      tickWidth: 1.6,
    };

    const chart = new Chart(ref.current as HTMLCanvasElement, {
      type: 'scatter',
      data: { datasets: cfg.datasets },
      options: {
        responsive: false,
        animation: false,
        devicePixelRatio: 1,
        events: [],
        layout: { padding: { left: 0, right: CANVAS_W - 764, top: 45, bottom: 0 } },
        plugins: {
          legend: { display: false },
          tooltip: { enabled: false },
        },
        scales: {
          x: {
            type: 'linear',
            position: 'bottom',
            min: cfg.xLim[0],
            max: cfg.xLim[1],
            afterBuildTicks: (s: any) => {
              s.ticks = cfg.xTicks.map((v) => ({ value: v }));
            },
            afterFit: (s: any) => {
              s.height = 79;
            },
            grid: gridOpts,
            border: { display: false },
            ticks: {
              font: { family: FONT, size: 25 },
              color: '#000',
              padding: 5,
              maxRotation: 0,
              autoSkip: false,
              callback: (v: any) => cfg.xFmt(Number(v)),
            },
            title: {
              display: true,
              text: cfg.xTitle,
              color: '#000',
              font: { family: FONT, size: cfg.xTitleSize, lineHeight: cfg.xTitleLH + 'px' },
              padding: 0,
            },
          },
          y: {
            type: 'linear',
            position: 'left',
            min: Y_LIMITS[0],
            max: Y_LIMITS[1],
            afterBuildTicks: (s: any) => {
              s.ticks = Y_TICKS.map((v) => ({ value: v }));
            },
            afterFit: (s: any) => {
              s.width = 136;
            },
            grid: gridOpts,
            border: { display: false },
            ticks: {
              font: { family: FONT, size: 25 },
              color: '#000',
              padding: 8,
              autoSkip: false,
              callback: (v: any) => Number(v).toFixed(1),
            },
            title: cfg.yTitle
              ? {
                  display: true,
                  text: cfg.yTitle,
                  color: '#000',
                  font: { family: FONT, size: 33 },
                  padding: { top: 31, bottom: 0 },
                }
              : { display: false },
          },
        },
      } as any,
      plugins: [decor],
    });
    return () => chart.destroy();
  }, [cfg]);

  return (
    <canvas
      ref={ref}
      width={CANVAS_W}
      height={CANVAS_H}
      style={{ position: 'absolute', left: cfg.left, top: 0, width: CANVAS_W, height: CANVAS_H }}
    />
  );
}

const X_TITLE_CONC = 'concentration (x 10\u00B9\u00B9 molec.cm-3)';

const PANELS: PanelCfg[] = [
  {
    left: 0,
    datasets: profileDatasets(NO2_PROFILES, NO2_MEDIAN),
    xLim: NO2_X_LIMITS,
    xTicks: NO2_X_TICKS,
    xFmt: (v) => v.toFixed(1),
    xTitle: X_TITLE_CONC,
    xTitleSize: 28,
    xTitleLH: 22,
    yTitle: 'Altitude (km.a.s.l)',
    legend: 'NO\u2082 MAX-DOAS median profile',
    tag: { text: '(a)', x: 2.09, y: 0.7 },
  },
  {
    left: 752,
    datasets: profileDatasets(HCHO_PROFILES, HCHO_MEDIAN),
    xLim: HCHO_X_LIMITS,
    xTicks: HCHO_X_TICKS,
    xFmt: (v) => String(Math.round(v)),
    xTitle: X_TITLE_CONC,
    xTitleSize: 28,
    xTitleLH: 22,
    legend: 'H\u2082CO MAX-DOAS median profile',
    tag: { text: '(b)', x: 39.75, y: 0.7 },
  },
  {
    left: 1504,
    datasets: akDatasets(AK_PROFILES),
    xLim: AK_X_LIMITS,
    xTicks: AK_X_TICKS,
    xFmt: (v) => v.toFixed(1),
    xTitle: 'Averanging Kernel TROPOMI',
    xTitleSize: 33,
    xTitleLH: 27,
    tag: { text: '(c)', x: 1.4, y: 0.7 },
  },
];

export default function App() {
  return (
    <div
      style={{
        position: 'fixed',
        left: 0,
        top: 0,
        width: 2276,
        height: 1184,
        overflow: 'hidden',
        background: '#ffffff',
      }}
    >
      {PANELS.map((cfg, i) => (
        <Panel key={i} cfg={cfg} />
      ))}
    </div>
  );
}
